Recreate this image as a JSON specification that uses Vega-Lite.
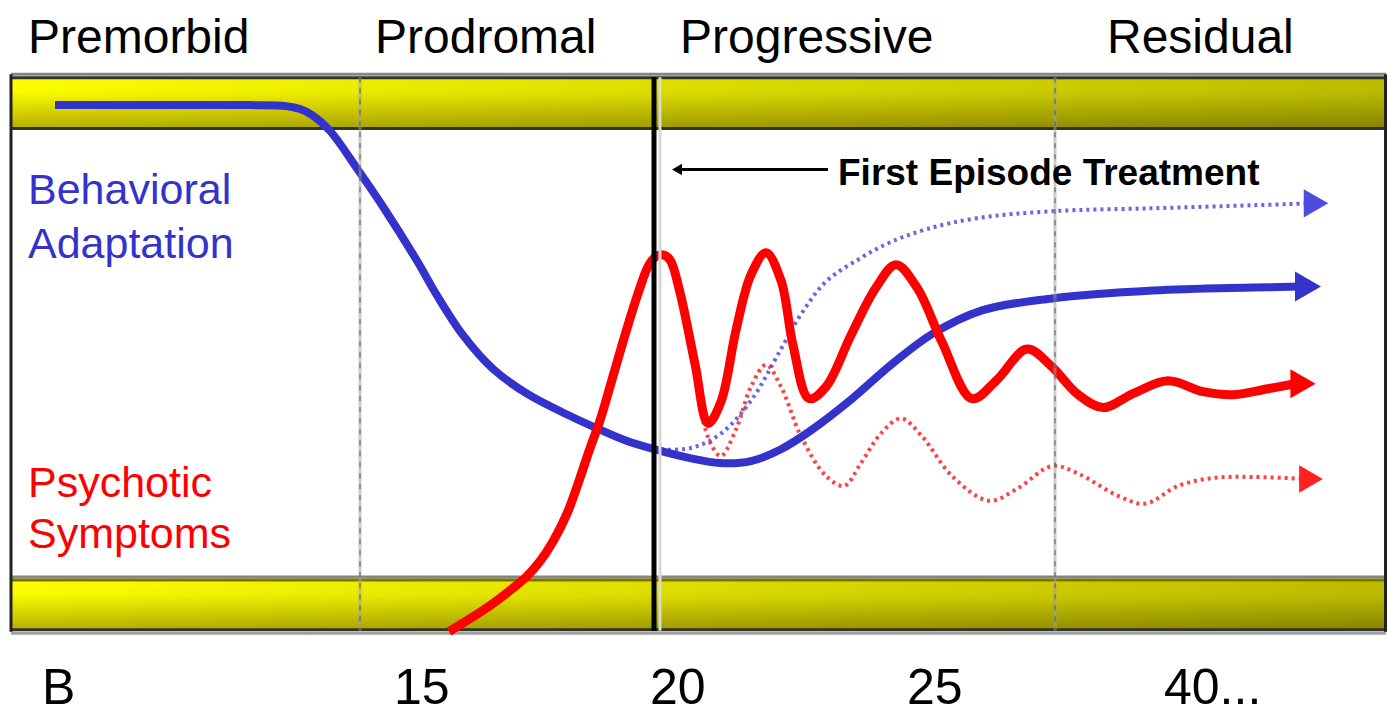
{
  "$schema": "https://vega.github.io/schema/vega-lite/v6.json",
  "width": 1388,
  "height": 714,
  "padding": 0,
  "autosize": {"type": "fit", "contains": "padding"},
  "background": "white",
  "config": {"view": {"stroke": null}},
  "resolve": {"scale": {"color": "independent", "size": "independent"}},
  "datasets": {
    "bands": [
      {"band": "top", "x": 11, "x2": 1385, "y": 78, "y2": 130},
      {"band": "bottom", "x": 11, "x2": 1385, "y": 585, "y2": 636}
    ],
    "hlines": [
      {"kind": "gray", "x": 11, "x2": 1386, "y": 75},
      {"kind": "dark", "x": 11, "x2": 1386, "y": 78.5},
      {"kind": "dark", "x": 11, "x2": 1386, "y": 129.5},
      {"kind": "gray", "x": 11, "x2": 1386, "y": 582},
      {"kind": "olive", "x": 11, "x2": 1386, "y": 585},
      {"kind": "dark", "x": 11, "x2": 1386, "y": 635},
      {"kind": "lightgray", "x": 11, "x2": 1386, "y": 638.5}
    ],
    "vlines": [
      {"kind": "border", "x": 11, "y": 75, "y2": 637},
      {"kind": "border", "x": 1385.5, "y": 75, "y2": 637},
      {"kind": "phase", "x": 360, "y": 78, "y2": 636},
      {"kind": "phase", "x": 1055, "y": 78, "y2": 636},
      {"kind": "treatment", "x": 654, "y": 78, "y2": 636}
    ],
    "curves": [
      {"series": "behavior", "x": 55, "y": 106},
      {"series": "behavior", "x": 150, "y": 106},
      {"series": "behavior", "x": 250, "y": 106},
      {"series": "behavior", "x": 286, "y": 107},
      {"series": "behavior", "x": 300, "y": 110},
      {"series": "behavior", "x": 312, "y": 116},
      {"series": "behavior", "x": 330, "y": 132},
      {"series": "behavior", "x": 357, "y": 170},
      {"series": "behavior", "x": 384, "y": 210},
      {"series": "behavior", "x": 417, "y": 263},
      {"series": "behavior", "x": 437, "y": 298},
      {"series": "behavior", "x": 463, "y": 338},
      {"series": "behavior", "x": 493, "y": 372},
      {"series": "behavior", "x": 527, "y": 397},
      {"series": "behavior", "x": 567, "y": 418},
      {"series": "behavior", "x": 597, "y": 432},
      {"series": "behavior", "x": 625, "y": 444},
      {"series": "behavior", "x": 654, "y": 453},
      {"series": "behavior", "x": 690, "y": 462},
      {"series": "behavior", "x": 720, "y": 467},
      {"series": "behavior", "x": 751, "y": 465},
      {"series": "behavior", "x": 781, "y": 453},
      {"series": "behavior", "x": 811, "y": 434},
      {"series": "behavior", "x": 851, "y": 403},
      {"series": "behavior", "x": 891, "y": 368},
      {"series": "behavior", "x": 932, "y": 337},
      {"series": "behavior", "x": 982, "y": 313},
      {"series": "behavior", "x": 1052, "y": 301},
      {"series": "behavior", "x": 1153, "y": 293},
      {"series": "behavior", "x": 1253, "y": 290},
      {"series": "behavior", "x": 1300, "y": 289},
      {"series": "behavior_alt", "x": 654, "y": 453},
      {"series": "behavior_alt", "x": 690, "y": 452},
      {"series": "behavior_alt", "x": 720, "y": 438},
      {"series": "behavior_alt", "x": 751, "y": 404},
      {"series": "behavior_alt", "x": 781, "y": 352},
      {"series": "behavior_alt", "x": 801, "y": 317},
      {"series": "behavior_alt", "x": 826, "y": 284},
      {"series": "behavior_alt", "x": 861, "y": 260},
      {"series": "behavior_alt", "x": 891, "y": 244},
      {"series": "behavior_alt", "x": 927, "y": 231},
      {"series": "behavior_alt", "x": 977, "y": 220},
      {"series": "behavior_alt", "x": 1052, "y": 213},
      {"series": "behavior_alt", "x": 1153, "y": 210},
      {"series": "behavior_alt", "x": 1253, "y": 207},
      {"series": "behavior_alt", "x": 1310, "y": 205},
      {"series": "psychotic", "x": 449, "y": 637},
      {"series": "psychotic", "x": 473, "y": 622},
      {"series": "psychotic", "x": 491, "y": 610},
      {"series": "psychotic", "x": 513, "y": 593},
      {"series": "psychotic", "x": 527, "y": 581},
      {"series": "psychotic", "x": 540, "y": 566},
      {"series": "psychotic", "x": 553, "y": 546},
      {"series": "psychotic", "x": 567, "y": 518},
      {"series": "psychotic", "x": 580, "y": 482},
      {"series": "psychotic", "x": 590, "y": 452},
      {"series": "psychotic", "x": 600, "y": 424},
      {"series": "psychotic", "x": 612, "y": 383},
      {"series": "psychotic", "x": 625, "y": 338},
      {"series": "psychotic", "x": 638, "y": 296},
      {"series": "psychotic", "x": 649, "y": 267},
      {"series": "psychotic", "x": 657, "y": 258},
      {"series": "psychotic", "x": 663, "y": 257},
      {"series": "psychotic", "x": 670, "y": 262},
      {"series": "psychotic", "x": 680, "y": 295},
      {"series": "psychotic", "x": 695, "y": 367},
      {"series": "psychotic", "x": 708, "y": 427},
      {"series": "psychotic", "x": 721, "y": 405},
      {"series": "psychotic", "x": 736, "y": 333},
      {"series": "psychotic", "x": 751, "y": 277},
      {"series": "psychotic", "x": 766, "y": 255},
      {"series": "psychotic", "x": 781, "y": 283},
      {"series": "psychotic", "x": 793, "y": 348},
      {"series": "psychotic", "x": 809, "y": 402},
      {"series": "psychotic", "x": 826, "y": 390},
      {"series": "psychotic", "x": 851, "y": 338},
      {"series": "psychotic", "x": 876, "y": 290},
      {"series": "psychotic", "x": 896, "y": 267},
      {"series": "psychotic", "x": 917, "y": 290},
      {"series": "psychotic", "x": 942, "y": 345},
      {"series": "psychotic", "x": 972, "y": 402},
      {"series": "psychotic", "x": 997, "y": 383},
      {"series": "psychotic", "x": 1027, "y": 352},
      {"series": "psychotic", "x": 1052, "y": 370},
      {"series": "psychotic", "x": 1077, "y": 397},
      {"series": "psychotic", "x": 1103, "y": 411},
      {"series": "psychotic", "x": 1133, "y": 397},
      {"series": "psychotic", "x": 1168, "y": 384},
      {"series": "psychotic", "x": 1203, "y": 395},
      {"series": "psychotic", "x": 1233, "y": 398},
      {"series": "psychotic", "x": 1268, "y": 392},
      {"series": "psychotic", "x": 1295, "y": 387},
      {"series": "psychotic_alt", "x": 703, "y": 425},
      {"series": "psychotic_alt", "x": 712, "y": 450},
      {"series": "psychotic_alt", "x": 721, "y": 460},
      {"series": "psychotic_alt", "x": 736, "y": 433},
      {"series": "psychotic_alt", "x": 751, "y": 390},
      {"series": "psychotic_alt", "x": 766, "y": 368},
      {"series": "psychotic_alt", "x": 781, "y": 390},
      {"series": "psychotic_alt", "x": 801, "y": 440},
      {"series": "psychotic_alt", "x": 826, "y": 480},
      {"series": "psychotic_alt", "x": 844, "y": 490},
      {"series": "psychotic_alt", "x": 861, "y": 467},
      {"series": "psychotic_alt", "x": 881, "y": 437},
      {"series": "psychotic_alt", "x": 901, "y": 422},
      {"series": "psychotic_alt", "x": 922, "y": 440},
      {"series": "psychotic_alt", "x": 952, "y": 480},
      {"series": "psychotic_alt", "x": 989, "y": 505},
      {"series": "psychotic_alt", "x": 1017, "y": 493},
      {"series": "psychotic_alt", "x": 1052, "y": 470},
      {"series": "psychotic_alt", "x": 1077, "y": 477},
      {"series": "psychotic_alt", "x": 1118, "y": 500},
      {"series": "psychotic_alt", "x": 1145, "y": 508},
      {"series": "psychotic_alt", "x": 1178, "y": 490},
      {"series": "psychotic_alt", "x": 1213, "y": 482},
      {"series": "psychotic_alt", "x": 1253, "y": 481},
      {"series": "psychotic_alt", "x": 1305, "y": 483}
    ],
    "heads": [
      {"series": "behavior", "x": 1308, "y": 289},
      {"series": "psychotic", "x": 1303, "y": 387},
      {"series": "behavior_alt", "x": 1316, "y": 205},
      {"series": "psychotic_alt", "x": 1311, "y": 483}
    ],
    "pointer": [
      {"x": 680, "y": 171},
      {"x": 828, "y": 171}
    ],
    "labels": [
      {"role": "phase", "group": "black", "text": "Premorbid", "x": 28, "y": 53},
      {"role": "phase", "group": "black", "text": "Prodromal", "x": 375, "y": 53},
      {"role": "phase", "group": "black", "text": "Progressive", "x": 680, "y": 53},
      {"role": "phase", "group": "black", "text": "Residual", "x": 1107, "y": 53},
      {"role": "side", "group": "blue", "text": "Behavioral", "x": 28, "y": 206},
      {"role": "side", "group": "blue", "text": "Adaptation", "x": 28, "y": 260},
      {"role": "side", "group": "red", "text": "Psychotic", "x": 28, "y": 501},
      {"role": "side", "group": "red", "text": "Symptoms", "x": 28, "y": 553},
      {"role": "age", "group": "black", "text": "B", "x": 42, "y": 710},
      {"role": "age", "group": "black", "text": "15", "x": 394, "y": 710},
      {"role": "age", "group": "black", "text": "20", "x": 650, "y": 710},
      {"role": "age", "group": "black", "text": "25", "x": 907, "y": 710},
      {"role": "age", "group": "black", "text": "40...", "x": 1164, "y": 710},
      {"role": "note", "group": "black", "text": "First Episode Treatment", "x": 838, "y": 187}
    ]
  },
  "layer": [
    {
      "data": {"name": "bands"},
      "mark": {"type": "rect", "color": {"gradient": "linear", "x1": 0, "y1": 0, "x2": 0, "y2": 1, "stops": [{"offset": 0, "color": "#ffff00"}, {"offset": 0.3, "color": "#fafa00"}, {"offset": 1, "color": "#b4ae00"}]}},
      "encoding": {
        "x": {"field": "x", "type": "quantitative", "scale": {"domain": [0, 1388], "nice": false, "zero": false}, "axis": null},
        "x2": {"field": "x2"},
        "y": {"field": "y", "type": "quantitative", "scale": {"domain": [0, 714], "reverse": true, "nice": false, "zero": false}, "axis": null},
        "y2": {"field": "y2"}
      }
    },
    {
      "data": {"name": "bands"},
      "mark": {"type": "rect", "color": {"gradient": "linear", "x1": 0, "y1": 0, "x2": 1, "y2": 0, "stops": [{"offset": 0, "color": "rgba(0,0,0,0)"}, {"offset": 1, "color": "rgba(0,0,0,0.26)"}]}},
      "encoding": {
        "x": {"field": "x", "type": "quantitative"},
        "x2": {"field": "x2"},
        "y": {"field": "y", "type": "quantitative"},
        "y2": {"field": "y2"}
      }
    },
    {
      "data": {"name": "hlines"},
      "mark": {"type": "rule", "strokeWidth": 3},
      "encoding": {
        "x": {"field": "x", "type": "quantitative"},
        "x2": {"field": "x2"},
        "y": {"field": "y", "type": "quantitative"},
        "color": {"field": "kind", "type": "nominal", "scale": {"domain": ["gray", "dark", "olive", "lightgray"], "range": ["#858585", "#33332a", "#7a7600", "#a0a0a0"]}, "legend": null}
      }
    },
    {
      "data": {"name": "curves"},
      "transform": [{"filter": "datum.series === 'behavior_alt'"}],
      "mark": {"type": "line", "color": "#4d4ddd", "strokeWidth": 4, "strokeDash": [3, 4], "interpolate": "catmull-rom", "opacity": 0.85},
      "encoding": {"x": {"field": "x", "type": "quantitative"}, "y": {"field": "y", "type": "quantitative"}}
    },
    {
      "data": {"name": "curves"},
      "transform": [{"filter": "datum.series === 'psychotic_alt'"}],
      "mark": {"type": "line", "color": "#ff2020", "strokeWidth": 4, "strokeDash": [3, 4], "interpolate": "catmull-rom", "opacity": 0.85},
      "encoding": {"x": {"field": "x", "type": "quantitative"}, "y": {"field": "y", "type": "quantitative"}}
    },
    {
      "data": {"name": "curves"},
      "transform": [{"filter": "datum.series === 'behavior'"}],
      "mark": {"type": "line", "color": "#3333cc", "strokeWidth": 8, "interpolate": "catmull-rom"},
      "encoding": {"x": {"field": "x", "type": "quantitative"}, "y": {"field": "y", "type": "quantitative"}}
    },
    {
      "data": {"name": "curves"},
      "transform": [{"filter": "datum.series === 'psychotic'"}],
      "mark": {"type": "line", "color": "#ff0000", "strokeWidth": 9, "interpolate": "catmull-rom"},
      "encoding": {"x": {"field": "x", "type": "quantitative"}, "y": {"field": "y", "type": "quantitative"}}
    },
    {
      "data": {"name": "heads"},
      "mark": {"type": "point", "shape": "triangle-right", "filled": true, "opacity": 1},
      "encoding": {
        "x": {"field": "x", "type": "quantitative"},
        "y": {"field": "y", "type": "quantitative"},
        "color": {"field": "series", "type": "nominal", "scale": {"domain": ["behavior", "psychotic", "behavior_alt", "psychotic_alt"], "range": ["#3333cc", "#ff0000", "#4d4ddd", "#ff2020"]}, "legend": null},
        "size": {"field": "series", "type": "nominal", "scale": {"domain": ["behavior", "psychotic", "behavior_alt", "psychotic_alt"], "range": [900, 750, 200, 200]}, "legend": null}
      }
    },
    {
      "data": {"name": "vlines"},
      "transform": [{"filter": "datum.kind === 'phase'"}],
      "mark": {"type": "rule", "color": "#a0a0a0", "strokeWidth": 3, "opacity": 0.55},
      "encoding": {"x": {"field": "x", "type": "quantitative"}, "y": {"field": "y", "type": "quantitative"}, "y2": {"field": "y2"}}
    },
    {
      "data": {"name": "vlines"},
      "transform": [{"filter": "datum.kind === 'phase'"}],
      "mark": {"type": "rule", "color": "#555555", "strokeWidth": 2, "strokeDash": [5, 6], "opacity": 0.5},
      "encoding": {"x": {"field": "x", "type": "quantitative"}, "y": {"field": "y", "type": "quantitative"}, "y2": {"field": "y2"}}
    },
    {
      "data": {"name": "vlines"},
      "transform": [{"filter": "datum.kind === 'treatment'"}],
      "mark": {"type": "rule", "color": "#d8d8d8", "strokeWidth": 3, "xOffset": 6},
      "encoding": {"x": {"field": "x", "type": "quantitative"}, "y": {"field": "y", "type": "quantitative"}, "y2": {"field": "y2"}}
    },
    {
      "data": {"name": "vlines"},
      "transform": [{"filter": "datum.kind === 'treatment'"}],
      "mark": {"type": "rule", "color": "#000000", "strokeWidth": 5},
      "encoding": {"x": {"field": "x", "type": "quantitative"}, "y": {"field": "y", "type": "quantitative"}, "y2": {"field": "y2"}}
    },
    {
      "data": {"name": "vlines"},
      "transform": [{"filter": "datum.kind === 'border'"}],
      "mark": {"type": "rule", "color": "#222222", "strokeWidth": 3},
      "encoding": {"x": {"field": "x", "type": "quantitative"}, "y": {"field": "y", "type": "quantitative"}, "y2": {"field": "y2"}}
    },
    {
      "data": {"name": "pointer"},
      "mark": {"type": "line", "color": "#000000", "strokeWidth": 3},
      "encoding": {"x": {"field": "x", "type": "quantitative"}, "y": {"field": "y", "type": "quantitative"}}
    },
    {
      "data": {"name": "pointer"},
      "transform": [{"filter": "datum.x < 700"}],
      "mark": {"type": "point", "shape": "triangle-left", "filled": true, "color": "#000000", "size": 130, "opacity": 1, "xOffset": -3},
      "encoding": {"x": {"field": "x", "type": "quantitative"}, "y": {"field": "y", "type": "quantitative"}}
    },
    {
      "data": {"name": "labels"},
      "transform": [{"filter": "datum.role === 'phase'"}],
      "mark": {"type": "text", "align": "left", "baseline": "alphabetic", "font": "Liberation Sans", "fontSize": 48},
      "encoding": {
        "x": {"field": "x", "type": "quantitative"},
        "y": {"field": "y", "type": "quantitative"},
        "text": {"field": "text"},
        "color": {"field": "group", "type": "nominal", "scale": {"domain": ["black", "blue", "red"], "range": ["#000000", "#3333cc", "#ff0000"]}, "legend": null}
      }
    },
    {
      "data": {"name": "labels"},
      "transform": [{"filter": "datum.role === 'side'"}],
      "mark": {"type": "text", "align": "left", "baseline": "alphabetic", "font": "Liberation Sans", "fontSize": 43},
      "encoding": {
        "x": {"field": "x", "type": "quantitative"},
        "y": {"field": "y", "type": "quantitative"},
        "text": {"field": "text"},
        "color": {"field": "group", "type": "nominal", "scale": {"domain": ["black", "blue", "red"], "range": ["#000000", "#3333cc", "#ff0000"]}, "legend": null}
      }
    },
    {
      "data": {"name": "labels"},
      "transform": [{"filter": "datum.role === 'age'"}],
      "mark": {"type": "text", "align": "left", "baseline": "alphabetic", "font": "Liberation Sans", "fontSize": 50},
      "encoding": {
        "x": {"field": "x", "type": "quantitative"},
        "y": {"field": "y", "type": "quantitative"},
        "text": {"field": "text"},
        "color": {"field": "group", "type": "nominal", "scale": {"domain": ["black", "blue", "red"], "range": ["#000000", "#3333cc", "#ff0000"]}, "legend": null}
      }
    },
    {
      "data": {"name": "labels"},
      "transform": [{"filter": "datum.role === 'note'"}],
      "mark": {"type": "text", "align": "left", "baseline": "alphabetic", "font": "Liberation Sans", "fontSize": 37, "fontWeight": "bold"},
      "encoding": {
        "x": {"field": "x", "type": "quantitative"},
        "y": {"field": "y", "type": "quantitative"},
        "text": {"field": "text"},
        "color": {"field": "group", "type": "nominal", "scale": {"domain": ["black", "blue", "red"], "range": ["#000000", "#3333cc", "#ff0000"]}, "legend": null}
      }
    }
  ]
}
